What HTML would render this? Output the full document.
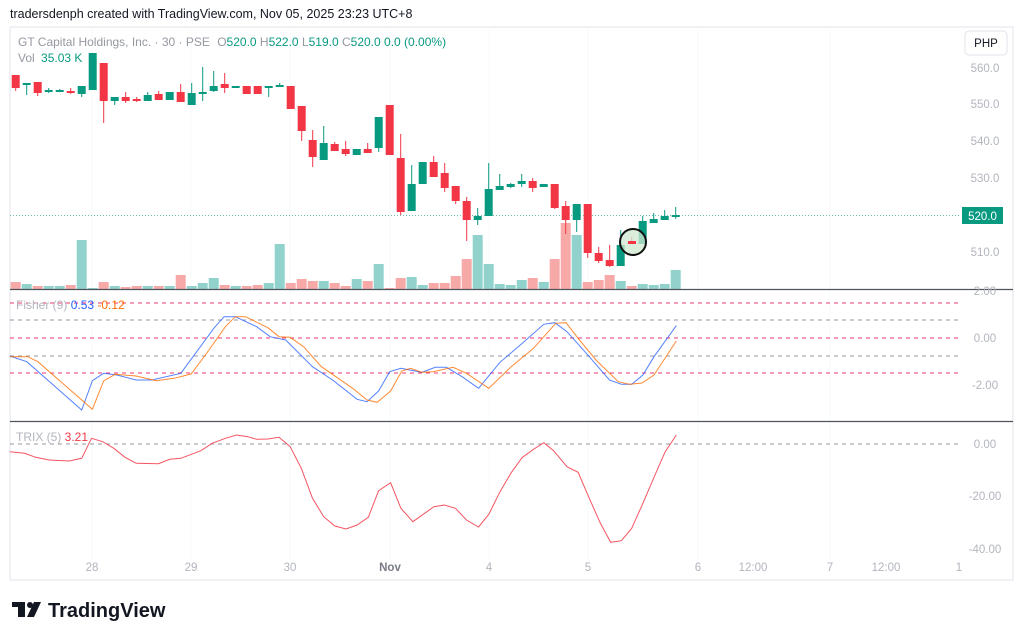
<!DOCTYPE html>
<html><head><meta charset="utf-8"><style>
html,body{margin:0;padding:0;background:#fff;width:1023px;height:639px;overflow:hidden}
svg{display:block;font-family:"Liberation Sans",sans-serif}
</style></head><body>
<svg id="s" width="1023" height="639" viewBox="0 0 1023 639" xmlns="http://www.w3.org/2000/svg">
<rect x="10" y="27" width="1003" height="553" fill="#fff" stroke="#e0e3eb" stroke-width="1"/>
<text x="10" y="18" font-size="12.5" fill="#131722">tradersdenph created with TradingView.com, Nov 05, 2025 23:23 UTC+8</text>
<g id="grid"></g>
<line x1="10" y1="215.5" x2="960" y2="215.5" stroke="#089981" stroke-width="1" stroke-dasharray="1,2" opacity="0.6"/>
<g id="vol"></g>
<g id="cdl"></g>
<circle cx="633" cy="242" r="13" fill="#cfe8cf" fill-opacity="0.75" stroke="#111" stroke-width="2"/>
<rect x="628" y="241" width="8" height="3" fill="#f23645"/>
<line x1="10" y1="289.5" x2="1013" y2="289.5" stroke="#50535e" stroke-width="1.2"/>
<line x1="10" y1="421.5" x2="1013" y2="421.5" stroke="#50535e" stroke-width="1.2"/>
<g stroke-dasharray="4,4" stroke-width="1">
<line x1="10" y1="303" x2="960" y2="303" stroke="#f23670"/>
<line x1="10" y1="320" x2="960" y2="320" stroke="#9598a1"/>
<line x1="10" y1="338" x2="960" y2="338" stroke="#f23670"/>
<line x1="10" y1="356" x2="960" y2="356" stroke="#9598a1"/>
<line x1="10" y1="373" x2="960" y2="373" stroke="#f23670"/>
<line x1="10" y1="444" x2="960" y2="444" stroke="#9598a1"/>
</g>
<polyline id="fb" fill="none" stroke="#2962ff" stroke-width="1" opacity="0.8"/>
<polyline id="fo" fill="none" stroke="#ff6d00" stroke-width="1" opacity="0.8"/>
<polyline id="tr" fill="none" stroke="#f23645" stroke-width="1" opacity="0.85"/>
<g font-size="12" fill="#787b86">
<text x="18" y="46" fill="#9598a1">GT Capital Holdings, Inc. · 30 · PSE <tspan dx="4">O</tspan><tspan fill="#089981">520.0</tspan> H<tspan fill="#089981">522.0</tspan> L<tspan fill="#089981">519.0</tspan> C<tspan fill="#089981">520.0</tspan> <tspan fill="#089981">0.0 (0.00%)</tspan></text>
<text x="18" y="62" fill="#9598a1">Vol <tspan fill="#089981" dx="3">35.03 K</tspan></text>
<text x="16" y="309" fill="#b2b5be">Fisher (9) <tspan fill="#2962ff">0.53</tspan> <tspan fill="#ff6d00">-0.12</tspan></text>
<text x="16" y="441" fill="#b2b5be">TRIX (5) <tspan fill="#f23645">3.21</tspan></text>
</g>
<rect x="965" y="31" width="42" height="24" rx="4" fill="#fff" stroke="#e0e3eb"/>
<text x="986" y="47" font-size="11.5" fill="#131722" text-anchor="middle">PHP</text>
<g font-size="11.5" fill="#b2b5be" text-anchor="middle">
<text x="985" y="72">560.0</text><text x="985" y="108">550.0</text><text x="985" y="145">540.0</text><text x="985" y="182">530.0</text><text x="985" y="256">510.0</text>
<text x="985" y="295">2.00</text><text x="985" y="342">0.00</text><text x="985" y="389">-2.00</text>
<text x="985" y="448">0.00</text><text x="985" y="500">-20.00</text><text x="985" y="553">-40.00</text>
<text x="92" y="571">28</text><text x="191" y="571">29</text><text x="290" y="571">30</text><text x="390" y="571" fill="#787b86" font-weight="bold">Nov</text><text x="489" y="571">4</text><text x="588" y="571">5</text><text x="698" y="571">6</text><text x="753" y="571">12:00</text><text x="830" y="571">7</text><text x="886" y="571">12:00</text><text x="959" y="571">1</text>
</g>
<rect x="962" y="207" width="41" height="17" fill="#089981"/>
<text x="982.5" y="220" font-size="11.5" fill="#fff" text-anchor="middle">520.0</text>
<g fill="#131722">
<rect x="12" y="602" width="13" height="5"/><rect x="18" y="602" width="7" height="15"/>
<circle cx="30" cy="605" r="3"/><polygon points="34,602 41,602 34,617 27,617"/>
</g>
<text x="48" y="617" font-size="20" font-weight="bold" fill="#131722">TradingView</text>
</svg>
<script>
var s=document.getElementById('s'),NS='http://www.w3.org/2000/svg';
function el(p,t,a){var e=document.createElementNS(NS,t);for(var k in a)e.setAttribute(k,a[k]);document.getElementById(p).appendChild(e);}
var C=[[75,88,75,91,0],[83,84,83,95,1],[82,93,82,96,0],[92,90,88,93,1],[91,90,89,92,1],[91,93,88,94,0],[94,86,86,97,1],[90,53,53,90,1],[63,101,63,123,0],[101,97,97,105,1],[97,101,92,103,0],[99,101,97,102,0],[101,95,92,101,1],[94,100,91,100,0],[100,92,92,100,1],[92,102,84,102,0],[105,93,83,105,1],[94,92,67,101,1],[91,86,71,92,1],[84,88,73,93,0],[88,86,86,88,1],[86,94,86,94,0],[86,94,86,94,0],[87,86,86,97,1],[86,85,83,87,1],[86,109,86,109,0],[106,131,106,141,0],[140,157,130,167,0],[160,143,126,160,1],[144,151,142,151,0],[149,154,141,156,0],[155,149,149,155,1],[149,153,143,153,0],[148,117,117,152,1],[105,155,105,155,0],[158,212,134,215,0],[211,184,165,211,1],[184,162,162,184,1],[162,177,156,177,0],[173,188,163,192,0],[186,201,186,204,0],[201,220,197,241,0],[220,216,208,225,1],[216,189,163,216,1],[190,186,174,190,1],[187,184,183,188,1],[184,181,174,187,1],[181,188,178,192,0],[187,184,184,187,1],[184,208,184,209,0],[206,220,201,234,0],[220,204,204,232,1],[204,253,204,258,0],[253,261,247,263,0],[260,266,245,267,0],[266,245,230,266,1],[242,244,237,244,0],[244,221,216,244,1],[223,219,213,223,1],[220,216,210,220,1],[216,215,207,219,1]];
var V=[282,284,286,286,286,285,240,288,282,286,287,286,286,286,286,275,286,283,278,285,286,286,285,283,244,283,279,281,281,283,286,279,281,264,288,278,277,285,283,283,276,259,235,264,284,285,280,278,282,259,223,235,282,280,275,281,286,284,285,284,270];
for(var i=0;i<C.length;i++){var x=15.7+i*11,c=C[i],g=c[4],col=g?'#089981':'#f23645';
el('vol','rect',{x:x-5,y:V[i],width:10,height:289-V[i],fill:g?'#92d2cc':'#f7a9a7'});
el('cdl','line',{x1:x,x2:x,y1:c[2],y2:c[3],stroke:col,'stroke-width':1});
var t=Math.min(c[0],c[1]),h=Math.max(2,Math.abs(c[0]-c[1]));
el('cdl','rect',{x:x-4,y:t,width:8,height:h,fill:col});}
[92,191,290,390,489,588,698,830].forEach(function(x){el('grid','line',{x1:x,x2:x,y1:27,y2:560,stroke:'#f7f8fa'});});
function P(id,a,off){var p=[];for(var i=0;i<a.length;i+=2)p.push((a[i]/2.24).toFixed(1)+','+(a[i+1]/3+off).toFixed(1));document.getElementById(id).setAttribute('points',p.join(' '));}
P('fb',[22,213,60,230,183,375,207,287,232,265,262,270,305,285,340,285,405,265,480,128,502,95,527,95,575,125,605,155,640,165,700,245,745,285,800,343,822,350,848,318,873,260,898,250,945,262,975,247,1000,247,1035,275,1072,310,1120,232,1170,175,1218,118,1243,113,1270,140,1320,215,1365,285,1392,298,1415,298,1440,270,1465,215,1515,122],285);
P('fo',[22,215,62,215,85,230,207,373,232,288,258,268,305,273,350,287,390,280,428,267,460,210,505,125,527,95,550,95,600,128,625,155,650,157,680,185,720,245,790,310,822,345,845,352,875,318,900,258,920,250,945,262,970,260,1015,247,1045,265,1095,310,1145,245,1195,190,1245,115,1268,113,1295,160,1335,225,1385,290,1410,298,1438,294,1465,270,1515,168],285);
P('tr',[22,95,55,100,80,112,110,120,155,123,183,115,205,55,230,65,255,85,280,112,305,130,355,131,380,118,405,115,450,92,475,70,505,55,530,45,555,50,575,58,600,57,625,52,650,80,675,145,700,235,725,290,750,318,775,327,800,315,825,292,848,212,875,188,898,265,925,305,948,283,972,260,995,255,1020,265,1045,300,1072,321,1095,283,1120,215,1145,158,1170,112,1195,88,1218,68,1240,92,1270,140,1295,157,1320,235,1345,310,1368,367,1392,362,1415,325,1440,250,1465,172,1490,95,1515,45],420);
</script>
</body></html>
